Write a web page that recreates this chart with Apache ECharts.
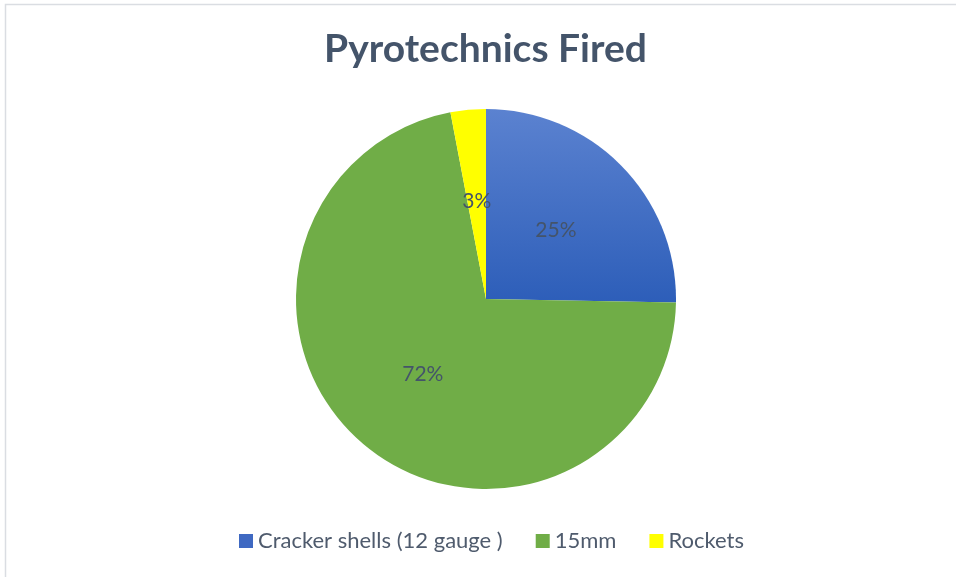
<!DOCTYPE html>
<html>
<head>
<meta charset="utf-8">
<script src="https://cdn.jsdelivr.net/npm/echarts@6/dist/echarts.min.js"></script>
<style>
html,body{margin:0;padding:0;background:#fff;}
#c{width:956px;height:577px;}
</style>
</head>
<body>
<div id="c"></div>
<script>
const titleText = 'Pyrotechnics Fired';
const categories = ['Cracker shells (12 gauge )', '15mm', 'Rockets'];
const values = [25.3, 71.7, 3.0];

const colors = [
  new echarts.graphic.LinearGradient(0, 0, 0, 1, [
    {offset: 0, color: '#5B82D0'},
    {offset: 1, color: '#2D5EB9'}
  ]),
  '#70AD47',
  '#FFFF00'
];
const legendColors = ['#3F69C2', '#70AD47', '#FFFF00'];

const chart = echarts.init(document.getElementById('c'), null, {renderer: 'canvas'});
chart.setOption({
  backgroundColor: '#fff',
  animation: false,
  title: {
    text: titleText,
    left: 319,
    top: 25,
    textStyle: {fontFamily: 'Lato', fontWeight: 'bold', fontSize: 39, color: '#44546A'}
  },
  legend: {
    data: categories.map((c, i) => ({name: c, itemStyle: {color: legendColors[i]}})),
    top: 525,
    left: 234,
    icon: 'rect',
    itemWidth: 14,
    itemHeight: 14,
    itemGap: 33,
    textStyle: {fontFamily: 'Lato', fontSize: 22, color: '#4F5B6D'}
  },
  graphic: [{
    type: 'rect',
    shape: {x: 5.5, y: 4.5, width: 2000, height: 2000},
    style: {fill: 'none', stroke: '#DADDE2', lineWidth: 1.5},
    silent: true
  }],
  series: [{
    type: 'pie',
    center: [486, 299],
    radius: 190,
    startAngle: 90,
    clockwise: true,
    percentPrecision: 0,
    label: {
      show: true,
      position: 'inside',
      formatter: '{d}%',
      fontFamily: 'Lato',
      fontSize: 21,
      color: '#44546A'
    },
    labelLine: {show: false},
    itemStyle: {borderWidth: 0},
    emphasis: {disabled: true},
    data: categories.map((c, i) => ({name: c, value: values[i], itemStyle: {color: colors[i]}}))
  }]
});
</script>
</body>
</html>
